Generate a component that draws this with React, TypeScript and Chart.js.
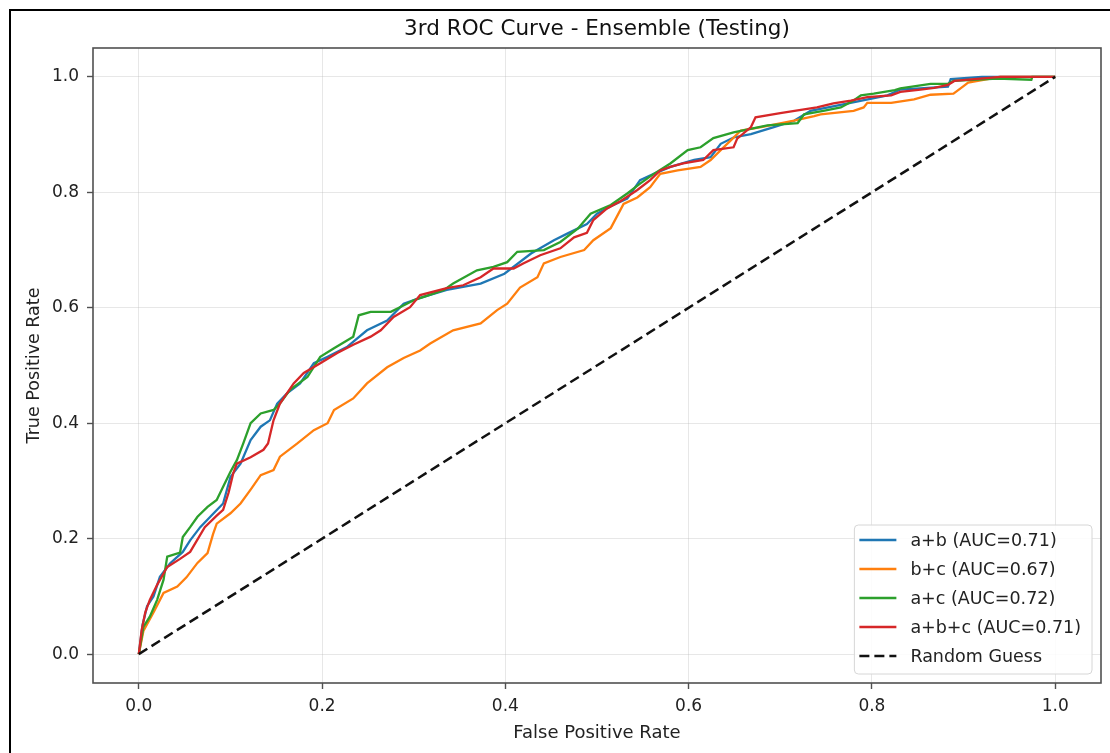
import React, { useEffect, useRef } from "react";
import { Chart, registerables } from "chart.js";

Chart.register(...registerables);

const chartTitle = "3rd ROC Curve - Ensemble (Testing)";
const xTitle = "False Positive Rate";
const yTitle = "True Positive Rate";
const tickValues = [0, 0.2, 0.4, 0.6, 0.8, 1.0];

const seriesLabels = ["a+b (AUC=0.71)", "b+c (AUC=0.67)", "a+c (AUC=0.72)", "a+b+c (AUC=0.71)", "Random Guess"];
const seriesColors = ["#1f77b4", "#ff7f0e", "#2ca02c", "#d62728", "#111111"];

const abFpr = [0, 0.004, 0.009, 0.016, 0.023, 0.034, 0.048, 0.056, 0.067, 0.078, 0.092, 0.1, 0.111, 0.122, 0.133, 0.143, 0.151, 0.162, 0.176, 0.191, 0.206, 0.227, 0.249, 0.271, 0.289, 0.307, 0.336, 0.373, 0.399, 0.428, 0.453, 0.467, 0.489, 0.5, 0.515, 0.533, 0.547, 0.562, 0.58, 0.606, 0.624, 0.635, 0.649, 0.668, 0.693, 0.715, 0.733, 0.774, 0.817, 0.831, 0.861, 0.883, 0.886, 0.92, 1.0];
const abTpr = [0, 0.05, 0.083, 0.1, 0.134, 0.157, 0.177, 0.197, 0.22, 0.238, 0.261, 0.307, 0.33, 0.371, 0.394, 0.405, 0.434, 0.452, 0.469, 0.504, 0.515, 0.532, 0.561, 0.578, 0.607, 0.617, 0.631, 0.642, 0.659, 0.694, 0.717, 0.728, 0.745, 0.763, 0.776, 0.789, 0.821, 0.832, 0.844, 0.856, 0.861, 0.884, 0.895, 0.901, 0.913, 0.924, 0.941, 0.954, 0.968, 0.978, 0.981, 0.983, 0.996, 1.0, 1.0];

const bcFpr = [0, 0.005, 0.016, 0.027, 0.042, 0.052, 0.064, 0.075, 0.081, 0.085, 0.1, 0.111, 0.122, 0.133, 0.147, 0.154, 0.173, 0.191, 0.206, 0.213, 0.234, 0.249, 0.271, 0.289, 0.307, 0.318, 0.343, 0.373, 0.391, 0.402, 0.416, 0.435, 0.442, 0.46, 0.486, 0.496, 0.515, 0.529, 0.544, 0.558, 0.569, 0.588, 0.613, 0.624, 0.635, 0.646, 0.657, 0.679, 0.715, 0.737, 0.744, 0.78, 0.791, 0.795, 0.821, 0.846, 0.864, 0.889, 0.9, 0.905, 0.94, 1.0];
const bcTpr = [0, 0.04, 0.072, 0.106, 0.117, 0.133, 0.158, 0.175, 0.208, 0.226, 0.244, 0.261, 0.285, 0.31, 0.319, 0.342, 0.365, 0.388, 0.4, 0.423, 0.443, 0.469, 0.497, 0.513, 0.526, 0.538, 0.561, 0.573, 0.596, 0.607, 0.635, 0.653, 0.677, 0.688, 0.7, 0.717, 0.738, 0.78, 0.791, 0.809, 0.832, 0.838, 0.844, 0.856, 0.873, 0.89, 0.907, 0.913, 0.924, 0.932, 0.935, 0.941, 0.947, 0.955, 0.955, 0.961, 0.969, 0.971, 0.984, 0.99, 1.0, 1.0];

const acFpr = [0, 0.005, 0.012, 0.02, 0.027, 0.031, 0.045, 0.048, 0.056, 0.064, 0.075, 0.085, 0.092, 0.1, 0.107, 0.114, 0.122, 0.133, 0.147, 0.154, 0.165, 0.184, 0.198, 0.213, 0.234, 0.24, 0.253, 0.275, 0.285, 0.3, 0.311, 0.333, 0.343, 0.369, 0.387, 0.402, 0.413, 0.442, 0.46, 0.479, 0.493, 0.515, 0.533, 0.547, 0.562, 0.58, 0.599, 0.613, 0.627, 0.649, 0.686, 0.719, 0.726, 0.747, 0.766, 0.78, 0.788, 0.802, 0.825, 0.831, 0.864, 0.883, 0.889, 0.937, 0.974, 0.975, 1.0];
const acTpr = [0, 0.047, 0.065, 0.094, 0.129, 0.169, 0.176, 0.203, 0.22, 0.238, 0.255, 0.267, 0.29, 0.316, 0.336, 0.365, 0.4, 0.417, 0.423, 0.434, 0.458, 0.48, 0.515, 0.53, 0.55, 0.587, 0.593, 0.593, 0.601, 0.613, 0.619, 0.631, 0.642, 0.665, 0.671, 0.679, 0.697, 0.7, 0.714, 0.737, 0.763, 0.778, 0.798, 0.815, 0.832, 0.85, 0.873, 0.878, 0.894, 0.904, 0.916, 0.92, 0.935, 0.941, 0.947, 0.959, 0.968, 0.971, 0.977, 0.98, 0.988, 0.988, 0.993, 0.997, 0.995, 1.0, 1.0];

const abcFpr = [0, 0.003, 0.007, 0.012, 0.02, 0.031, 0.045, 0.056, 0.072, 0.085, 0.092, 0.098, 0.103, 0.107, 0.122, 0.136, 0.141, 0.147, 0.154, 0.169, 0.18, 0.198, 0.217, 0.234, 0.253, 0.264, 0.278, 0.296, 0.307, 0.336, 0.354, 0.373, 0.387, 0.409, 0.42, 0.438, 0.46, 0.475, 0.489, 0.496, 0.511, 0.526, 0.544, 0.558, 0.569, 0.58, 0.594, 0.616, 0.627, 0.649, 0.653, 0.668, 0.673, 0.7, 0.719, 0.74, 0.758, 0.777, 0.795, 0.821, 0.831, 0.853, 0.868, 0.883, 0.89, 0.94, 1.0];
const abcTpr = [0, 0.04, 0.072, 0.094, 0.12, 0.151, 0.165, 0.177, 0.22, 0.24, 0.25, 0.28, 0.313, 0.33, 0.341, 0.354, 0.365, 0.405, 0.434, 0.469, 0.487, 0.504, 0.522, 0.536, 0.55, 0.561, 0.584, 0.601, 0.622, 0.634, 0.639, 0.653, 0.668, 0.668, 0.677, 0.691, 0.703, 0.722, 0.73, 0.752, 0.772, 0.785, 0.804, 0.821, 0.838, 0.844, 0.85, 0.856, 0.873, 0.878, 0.893, 0.913, 0.93, 0.937, 0.942, 0.947, 0.954, 0.959, 0.965, 0.968, 0.974, 0.978, 0.981, 0.986, 0.993, 1.0, 1.0];

const randFpr = [0, 1];
const randTpr = [0, 1];

const FONT = "'DejaVu Sans', sans-serif";

const toPoints = (xs: number[], ys: number[]) => xs.map((x, i) => ({ x, y: ys[i] }));

const spinesPlugin = {
  id: "spines",
  afterDatasetsDraw(chart: any) {
    const { ctx, chartArea } = chart;
    ctx.save();
    ctx.strokeStyle = "#505050";
    ctx.lineWidth = 1.6;
    ctx.strokeRect(chartArea.left, chartArea.top, chartArea.right - chartArea.left, chartArea.bottom - chartArea.top);
    ctx.restore();
  },
};

const legendPlugin = {
  id: "insideLegend",
  afterDraw(chart: any) {
    const { ctx, chartArea } = chart;
    const datasets = chart.data.datasets;
    ctx.save();
    ctx.font = `17.5px ${FONT}`;
    let maxW = 0;
    datasets.forEach((d: any) => {
      maxW = Math.max(maxW, ctx.measureText(d.label).width);
    });
    const rowH = 29;
    const padX = 5;
    const lineLen = 37;
    const textGap = 14;
    const boxW = padX + lineLen + textGap + maxW + 11;
    const boxH = 15 + rowH * (datasets.length - 1) + 18;
    const boxRight = chartArea.right - 9;
    const boxBottom = chartArea.bottom - 9;
    const bx = boxRight - boxW;
    const by = boxBottom - boxH;
    const r = 4;
    ctx.beginPath();
    ctx.moveTo(bx + r, by);
    ctx.lineTo(bx + boxW - r, by);
    ctx.quadraticCurveTo(bx + boxW, by, bx + boxW, by + r);
    ctx.lineTo(bx + boxW, by + boxH - r);
    ctx.quadraticCurveTo(bx + boxW, by + boxH, bx + boxW - r, by + boxH);
    ctx.lineTo(bx + r, by + boxH);
    ctx.quadraticCurveTo(bx, by + boxH, bx, by + boxH - r);
    ctx.lineTo(bx, by + r);
    ctx.quadraticCurveTo(bx, by, bx + r, by);
    ctx.closePath();
    ctx.fillStyle = "rgba(255,255,255,0.85)";
    ctx.fill();
    ctx.strokeStyle = "#d6d6d6";
    ctx.lineWidth = 1;
    ctx.stroke();
    datasets.forEach((d: any, i: number) => {
      const cy = by + 15 + i * rowH;
      ctx.beginPath();
      ctx.setLineDash(d.borderDash || []);
      ctx.strokeStyle = d.borderColor;
      ctx.lineWidth = d.borderWidth;
      ctx.moveTo(bx + padX, cy);
      ctx.lineTo(bx + padX + lineLen, cy);
      ctx.stroke();
      ctx.setLineDash([]);
      ctx.fillStyle = "#222";
      ctx.textBaseline = "middle";
      ctx.textAlign = "left";
      ctx.fillText(d.label, bx + padX + lineLen + textGap, cy + 1);
    });
    ctx.restore();
  },
};

export default function App() {
  const canvasRef = useRef<HTMLCanvasElement | null>(null);

  useEffect(() => {
    if (!canvasRef.current) return;
    const series = [
      toPoints(abFpr, abTpr),
      toPoints(bcFpr, bcTpr),
      toPoints(acFpr, acTpr),
      toPoints(abcFpr, abcTpr),
      toPoints(randFpr, randTpr),
    ];
    const chart = new Chart(canvasRef.current, {
      type: "line",
      data: {
        datasets: series.map((pts, i) => ({
          label: seriesLabels[i],
          data: pts,
          borderColor: seriesColors[i],
          backgroundColor: seriesColors[i],
          borderWidth: i === 4 ? 2.5 : 2.3,
          borderDash: i === 4 ? [10, 5] : [],
          pointRadius: 0,
          tension: 0,
          fill: false,
          order: 4 - i,
        })),
      },
      options: {
        animation: false,
        responsive: false,
        devicePixelRatio: 1,
        layout: { padding: { left: 0, right: 9, top: 0, bottom: 0 } },
        plugins: {
          legend: { display: false },
          tooltip: { enabled: false },
          title: {
            display: true,
            fullSize: false,
            text: chartTitle,
            color: "#111",
            font: { family: FONT, size: 21.5, weight: "normal" },
            padding: { top: 17, bottom: 5.2 },
          },
        },
        scales: {
          x: {
            type: "linear",
            min: -0.05,
            max: 1.05,
            border: { display: false },
            grid: { color: "rgba(176,176,176,0.3)", lineWidth: 1, tickColor: "#505050", tickLength: 6, tickWidth: 1.4 },
            ticks: {
              includeBounds: false,
              color: "#222",
              font: { family: FONT, size: 17 },
              padding: 7,
              maxRotation: 0,
              callback: (v: any) => Number(v).toFixed(1),
            },
            afterBuildTicks: (scale: any) => {
              scale.ticks = tickValues.map((v) => ({ value: v }));
            },
            afterFit: (scale: any) => {
              scale.height = 70;
              scale.paddingLeft = 0;
              scale.paddingRight = 0;
            },
            title: {
              display: true,
              text: xTitle,
              color: "#222",
              font: { family: FONT, size: 18 },
              padding: { top: 0, bottom: 8.5 },
            },
          },
          y: {
            type: "linear",
            min: -0.05,
            max: 1.05,
            border: { display: false },
            grid: { color: "rgba(176,176,176,0.3)", lineWidth: 1, tickColor: "#505050", tickLength: 6, tickWidth: 1.4 },
            ticks: {
              includeBounds: false,
              color: "#222",
              font: { family: FONT, size: 17 },
              padding: 8,
              callback: (v: any) => Number(v).toFixed(1),
            },
            afterBuildTicks: (scale: any) => {
              scale.ticks = tickValues.map((v) => ({ value: v }));
            },
            afterFit: (scale: any) => {
              scale.width = 93;
              scale.paddingTop = 0;
              scale.paddingBottom = 0;
            },
            title: {
              display: true,
              text: yTitle,
              color: "#222",
              font: { family: FONT, size: 17.5 },
              padding: { top: 24, bottom: 0 },
            },
          },
        },
      },
      plugins: [spinesPlugin, legendPlugin],
    });
    return () => chart.destroy();
  }, []);

  return (
    <div style={{ position: "absolute", left: 0, top: 0, width: 1110, height: 753, background: "#fff", overflow: "hidden" }}>
      <canvas ref={canvasRef} width={1110} height={753} style={{ display: "block" }} />
      <div
        style={{
          position: "absolute",
          left: 9,
          top: 9,
          width: 1101,
          height: 744,
          borderLeft: "2px solid #000",
          borderTop: "2px solid #000",
          boxSizing: "border-box",
          pointerEvents: "none",
        }}
      />
    </div>
  );
}
